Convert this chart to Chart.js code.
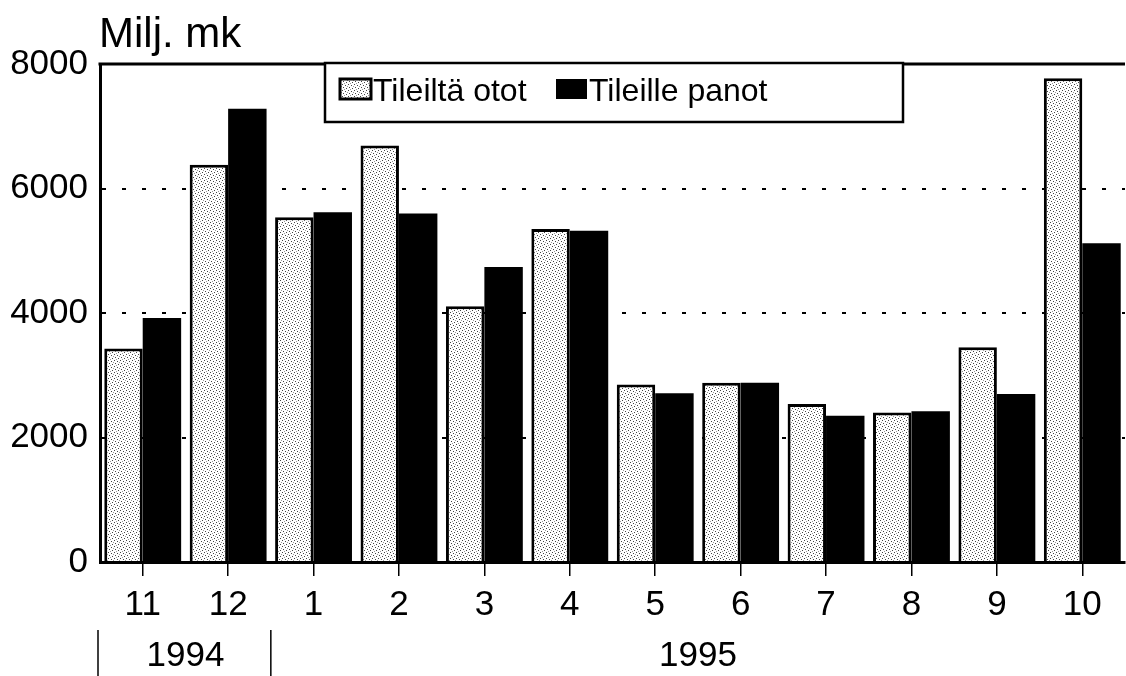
<!DOCTYPE html>
<html>
<head>
<meta charset="utf-8">
<script src="https://cdn.jsdelivr.net/npm/chart.js@4/dist/chart.umd.min.js"></script>
<style>
  body { margin: 0; background: #fff; }
  #wrap { width: 1126px; height: 676px; }
</style>
</head>
<body>
<div id="wrap"><canvas id="myChart"></canvas></div>
<script>
// months, Nov 1994 .. Oct 1995
const months = ["11", "12", "1", "2", "3", "4", "5", "6", "7", "8", "9", "10"];
const years = [
  { label: "1994", from: 0, to: 1 },
  { label: "1995", from: 2, to: 11 },
];
const ototValues = [3430, 6380, 5540, 6690, 4110, 5350, 2850, 2880, 2540, 2400, 3450, 7770];
const panotValues = [3920, 7280, 5620, 5600, 4740, 5320, 2710, 2880, 2350, 2420, 2700, 5120];
const yTicks = [0, 2000, 4000, 6000, 8000];

const textFont = "'Liberation Sans', Arial, sans-serif";

// stippled grey fill like the printed original
function makeStipple() {
  const c = document.createElement("canvas");
  c.width = 6;
  c.height = 6;
  const g = c.getContext("2d");
  g.fillStyle = "#fff";
  g.fillRect(0, 0, 6, 6);
  g.fillStyle = "#444";
  g.fillRect(0, 0, 1, 1);
  g.fillRect(3, 1, 1, 1);
  g.fillRect(1, 3, 1, 1);
  g.fillRect(4, 4, 1, 1);
  g.fillStyle = "#999";
  g.fillRect(5, 2, 1, 1);
  g.fillRect(2, 5, 1, 1);
  return g.createPattern(c, "repeat");
}
const stipple = makeStipple();

// title, top frame line, legend box, year row
const extras = {
  id: "extras",
  afterDraw(chart) {
    const ctx = chart.ctx;
    const area = chart.chartArea;
    const x = chart.scales.x;
    ctx.save();

    // top frame line
    ctx.strokeStyle = "#000";
    ctx.lineWidth = 3;
    ctx.beginPath();
    ctx.moveTo(area.left - 1.5, area.top);
    ctx.lineTo(area.right, area.top);
    ctx.stroke();

    // title
    ctx.fillStyle = "#000";
    ctx.font = "42px " + textFont;
    ctx.textAlign = "left";
    ctx.textBaseline = "alphabetic";
    ctx.fillText("Milj. mk", 99, 47);

    // legend
    const lx = 325, ly = 63, lw = 578, lh = 59;
    ctx.fillStyle = "#fff";
    ctx.fillRect(lx, ly, lw, lh);
    ctx.lineWidth = 2.5;
    ctx.strokeRect(lx, ly, lw, lh);
    ctx.font = "32px " + textFont;
    ctx.textBaseline = "middle";
    const items = [
      { x: 340, textX: 373, ds: chart.data.datasets[0] },
      { x: 556, textX: 589, ds: chart.data.datasets[1] },
    ];
    items.forEach((it) => {
      ctx.fillStyle = it.ds.backgroundColor;
      ctx.fillRect(it.x, 79, 31, 20);
      if (it.ds.borderWidth) {
        ctx.lineWidth = 3;
        ctx.strokeStyle = "#000";
        ctx.strokeRect(it.x, 79, 31, 20);
      }
      ctx.fillStyle = "#000";
      ctx.fillText(it.ds.label, it.textX, 92);
    });

    // year row
    ctx.font = "35px " + textFont;
    ctx.textAlign = "center";
    ctx.fillStyle = "#000";
    ctx.strokeStyle = "#000";
    ctx.lineWidth = 1.5;
    years.forEach((yr) => {
      const left = yr.from === 0 ? area.left - 2 : (x.getPixelForTick(yr.from - 1) + x.getPixelForTick(yr.from)) / 2;
      ctx.beginPath();
      ctx.moveTo(left, 630);
      ctx.lineTo(left, 676);
      ctx.stroke();
      const c = (x.getPixelForTick(yr.from) + x.getPixelForTick(yr.to)) / 2;
      ctx.fillText(yr.label, c, 656);
    });
    ctx.restore();
  },
};

const ctx = document.getElementById("myChart").getContext("2d");
const myChart = new Chart(ctx, {
  type: "bar",
  data: {
    labels: months,
    datasets: [
      {
        label: "Tileiltä otot",
        data: ototValues,
        backgroundColor: stipple,
        borderColor: "#000",
        borderWidth: 3,
        borderSkipped: "bottom",
      },
      {
        label: "Tileille panot",
        data: panotValues,
        backgroundColor: "#000",
        borderWidth: 0,
      },
    ],
  },
  options: {
    responsive: true,
    maintainAspectRatio: false,
    animation: false,
    devicePixelRatio: 1,
    datasets: {
      bar: { categoryPercentage: 0.9, barPercentage: 1.0 },
    },
    layout: { padding: { top: 64, right: 1, left: 0, bottom: 0 } },
    plugins: {
      legend: { display: false },
      title: { display: false },
      tooltip: { enabled: false },
    },
    scales: {
      x: {
        grid: {
          display: true,
          offset: false,
          drawOnChartArea: false,
          drawTicks: true,
          tickLength: 14,
          color: "#000",
          lineWidth: 1.5,
        },
        border: { display: true, color: "#000", width: 3 },
        ticks: {
          color: "#000",
          font: { family: textFont, size: 35 },
          padding: 8,
          maxRotation: 0,
          autoSkip: false,
        },
        afterFit(scale) {
          scale.height = 114;
        },
      },
      y: {
        min: 0,
        max: 8000,
        afterBuildTicks(scale) {
          scale.ticks = yTicks.map((v) => ({ value: v }));
        },
        grid: {
          color: "#000",
          lineWidth: 2,
          drawTicks: false,
        },
        border: { display: true, color: "#000", width: 3, dash: [4, 16] },
        ticks: {
          color: "#000",
          font: { family: textFont, size: 35 },
          padding: 12,
          callback: (v) => String(v),
        },
        afterFit(scale) {
          scale.width = 100;
        },
      },
    },
  },
  plugins: [extras],
});
</script>
</body>
</html>
